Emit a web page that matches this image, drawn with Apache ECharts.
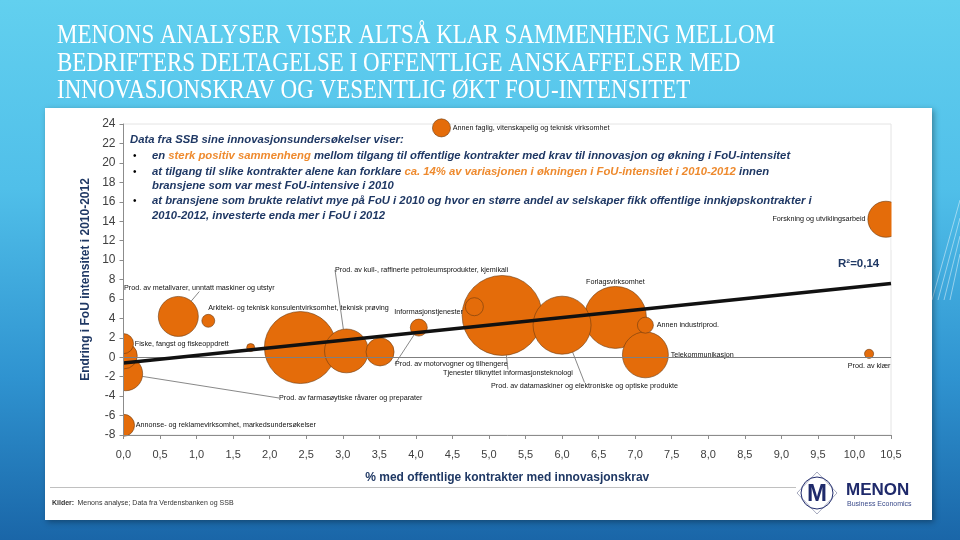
<!DOCTYPE html>
<html>
<head>
<meta charset="utf-8">
<script src="https://cdn.jsdelivr.net/npm/echarts@6/dist/echarts.min.js"></script>
<style>
  html, body { margin: 0; padding: 0; }
  #chart {
    width: 960px;
    height: 540px;
    background: linear-gradient(to bottom, #62d0ef 0%, #50bfe9 35%, #2f93d0 70%, #1a66a8 100%);
  }
</style>
</head>
<body>
<div id="chart"></div>
<script>
// bransjer (boblene)
const bransjer = [
  'Annen faglig, vitenskapelig og teknisk virksomhet',
  'Forskning og utviklingsarbeid',
  'Prod. av metallvarer, unntatt maskiner og utstyr',
  'Arkitekt- og teknisk konsulentvirksomhet, teknisk prøving',
  '',
  'Fiske, fangst og fiskeoppdrett',
  '',
  'Prod. av farmasøytiske råvarer og preparater',
  'Annonse- og reklamevirksomhet, markedsundersøkelser',
  '',
  'Prod. av kull-, raffinerte petroleumsprodukter, kjemikali',
  '',
  'Informasjonstjenester',
  'Prod. av motorvogner og tilhengere',
  'Tjenester tilknyttet informasjonsteknologi',
  'Prod. av datamaskiner og elektroniske og optiske produkte',
  'Forlagsvirksomhet',
  'Annen industriprod.',
  'Telekommunikasjon',
  'Prod. av klær'
]
// % med offentlige kontrakter med innovasjonskrav
const andelKontrakter = [4.35, 10.43, 0.75, 1.16, 1.74, 0.0, 0.01, 0.03, 0.0, 2.42,
  3.05, 3.51, 4.8, 4.04, 5.18, 6.0, 6.73, 7.14, 7.14, 10.2]
// endring i FoU-intensitet 2010-2012
const endringFoU = [23.6, 14.2, 4.2, 3.75, 1.0, 1.4, 0.15, -1.7, -7.0, 1.0,
  0.65, 0.55, 5.2, 3.05, 4.3, 3.3, 4.1, 3.3, 0.25, 0.35]
// boblestørrelse (relativ vekt)
const vekt = [5.1, 20.3, 25, 2.6, 1.0, 6.3, 10.6, 18, 7.6, 81,
  30, 12.3, 5.1, 4.5, 100, 52.6, 60, 4, 33, 1.3]

// trendlinje
const trendX = [0, 10.5]
const trendY = [-0.6, 7.6]

const navy = '#1f3864'
const oransje = '#e46c0a'
const tekstOransje = '#ee8a2e'

// plassering av etiketter
const etikettCfg = {
  'Annen faglig, vitenskapelig og teknisk virksomhet': { position: 'right', distance: 2 },
  'Forskning og utviklingsarbeid': { position: 'left', distance: 2 },
  'Arkitekt- og teknisk konsulentvirksomhet, teknisk prøving': { position: 'top', align: 'left', offset: [-2, 0], distance: 3 },
  'Fiske, fangst og fiskeoppdrett': { position: 'right', distance: 1 },
  'Annonse- og reklamevirksomhet, markedsundersøkelser': { position: 'right', distance: 1 },
  'Forlagsvirksomhet': { position: 'top', distance: 1 },
  'Annen industriprod.': { position: 'right', distance: 3 },
  'Telekommunikasjon': { position: 'right', distance: 2 },
  'Prod. av klær': { position: 'bottom', distance: 4 }
}
// etiketter med ledelinje (piksel-anker)
const ledelinjer = {
  'Prod. av metallvarer, unntatt maskiner og utstyr': [124, 288, 'left'],
  'Prod. av farmasøytiske råvarer og preparater': [279, 398, 'left'],
  'Prod. av kull-, raffinerte petroleumsprodukter, kjemikali': [335, 270, 'left'],
  'Informasjonstjenester': [463, 312, 'right'],
  'Prod. av motorvogner og tilhengere': [395, 364, 'left'],
  'Tjenester tilknyttet informasjonsteknologi': [443, 373, 'left'],
  'Prod. av datamaskiner og elektroniske og optiske produkte': [491, 386, 'left']
}

// bygg punktene, store bobler tegnes først
const punkter = bransjer.map((navn, i) => {
  const cfg = etikettCfg[navn]
  const led = ledelinjer[navn]
  return {
    name: navn,
    value: [andelKontrakter[i], endringFoU[i], vekt[i]],
    label: navn ? Object.assign({ show: true }, cfg || {}) : { show: false },
    labelLine: { show: !!led }
  }
}).sort((a, b) => b.value[2] - a.value[2])

// tittel
const tittel = [
  'MENONS ANALYSER VISER ALTSÅ KLAR SAMMENHENG MELLOM',
  'BEDRIFTERS DELTAGELSE I OFFENTLIGE ANSKAFFELSER MED',
  'INNOVASJONSKRAV OG VESENTLIG ØKT FOU-INTENSITET'
]
const ctx = document.createElement('canvas').getContext('2d')
ctx.font = '28px "Liberation Serif"'
const tittelSkala = 718 / ctx.measureText(tittel[0]).width

const rich = {
  n: { fontFamily: 'Liberation Sans', fontStyle: 'italic', fontWeight: 'bold', fontSize: 11.3, fill: navy },
  o: { fontFamily: 'Liberation Sans', fontStyle: 'italic', fontWeight: 'bold', fontSize: 11.3, fill: tekstOransje }
}
const boksLinjer = [
  [130, 140, '{n|Data fra SSB sine innovasjonsundersøkelser viser:}'],
  [152, 156, '{n|en }{o|sterk positiv sammenheng}{n| mellom tilgang til offentlige kontrakter med krav til innovasjon og økning i FoU-intensitet}'],
  [152, 172, '{n|at tilgang til slike kontrakter alene kan forklare }{o|ca. 14% av variasjonen i økningen i FoU-intensitet i 2010-2012}{n| innen}'],
  [152, 186, '{n|bransjene som var mest FoU-intensive i 2010}'],
  [152, 201, '{n|at bransjene som brukte relativt mye på FoU i 2010 og hvor en større andel av selskaper fikk offentlige innkjøpskontrakter i}'],
  [152, 216, '{n|2010-2012, investerte enda mer i FoU i 2012}']
]

const grafikk = [
  {
    type: 'rect', z: -10,
    shape: { x: 45, y: 108, width: 887, height: 412 },
    style: { fill: '#ffffff', shadowBlur: 6, shadowColor: 'rgba(0,0,0,0.35)', shadowOffsetX: 2, shadowOffsetY: 2 }
  },
  // boblene klippes mot venstre akse og høyre kant av plottet
  { type: 'rect', z: 6, shape: { x: 46, y: 290, width: 77, height: 150 }, style: { fill: '#ffffff' } },
  { type: 'rect', z: 6, shape: { x: 891.5, y: 190, width: 40, height: 60 }, style: { fill: '#ffffff' } },
  { type: 'line', z: 50, shape: { x1: 50, y1: 487.5, x2: 796, y2: 487.5 }, style: { stroke: '#c0c0c0', lineWidth: 1 } },
  {
    type: 'text', z: 50, x: 52, y: 503,
    style: {
      text: '{k|Kilder:} {t|Menons analyse; Data fra Verdensbanken og SSB}',
      verticalAlign: 'middle',
      rich: {
        k: { fontFamily: 'Liberation Sans', fontWeight: 'bold', fontSize: 7, fill: '#333' },
        t: { fontFamily: 'Liberation Sans', fontSize: 7, fill: '#333' }
      }
    }
  },
  {
    type: 'text', z: 50, x: 838, y: 264,
    style: { text: 'R²=0,14', font: 'bold 11.5px "Liberation Sans"', fill: navy, verticalAlign: 'middle' }
  },
  // logo
  { type: 'polygon', z: 50, shape: { points: [[797, 493], [817, 472], [837, 493], [817, 514]] }, style: { fill: 'none', stroke: '#6b7294', lineWidth: 0.6 } },
  { type: 'circle', z: 50, shape: { cx: 817, cy: 493, r: 16 }, style: { fill: 'none', stroke: '#1f2a6b', lineWidth: 1 } },
  { type: 'text', z: 51, x: 817, y: 494, style: { text: 'M', font: 'bold 24px "Liberation Sans"', fill: '#1f2a6b', align: 'center', verticalAlign: 'middle' } },
  { type: 'text', z: 50, x: 846, y: 490, style: { text: 'MENON', font: 'bold 17px "Liberation Sans"', fill: '#1f2a6b', verticalAlign: 'middle' } },
  { type: 'text', z: 50, x: 847, y: 504, style: { text: 'Business Economics', font: '7px "Liberation Sans"', fill: '#3a4a8a', verticalAlign: 'middle' } }
]
// dekorstriper til høyre
;[0, 6, 12, 18].forEach(d => {
  grafikk.push({ type: 'line', z: -20, shape: { x1: 932 + d, y1: 300, x2: 960, y2: 200 + d * 3 }, style: { stroke: 'rgba(255,255,255,0.45)', lineWidth: 1 } })
})
tittel.forEach((linje, i) => {
  grafikk.push({
    type: 'text', z: 50, x: 57, y: 36 + i * 27.5, scaleX: tittelSkala,
    style: { text: linje, font: '28px "Liberation Serif"', fill: '#ffffff', verticalAlign: 'middle' }
  })
})
boksLinjer.forEach(([x, y, tekst]) => {
  grafikk.push({ type: 'text', z: 50, x: x, y: y, style: { text: tekst, rich: rich, verticalAlign: 'middle' } })
})
;[156, 172, 201].forEach(y => {
  grafikk.push({ type: 'text', z: 50, x: 133, y: y, style: { text: '•', font: '10px "Liberation Sans"', fill: '#000', verticalAlign: 'middle' } })
})

const chart = echarts.init(document.getElementById('chart'), null, { renderer: 'canvas' })

const komma = v => v.toFixed(1).replace('.', ',')

chart.setOption({
  backgroundColor: 'transparent',
  animation: false,
  grid: { left: 123.5, right: 69, top: 124, bottom: 105, show: true, borderColor: '#e4e4e4', borderWidth: 1 },
  xAxis: {
    type: 'value', min: 0, max: 10.5, interval: 0.5, z: 10,
    name: '% med offentlige kontrakter med innovasjonskrav',
    nameLocation: 'middle', nameGap: 37,
    nameTextStyle: { fontFamily: 'Liberation Sans', fontWeight: 'bold', fontSize: 12, color: navy },
    axisLine: { show: true, onZero: false, lineStyle: { color: '#8c8c8c' } },
    axisTick: { show: true, length: 4, lineStyle: { color: '#8c8c8c' } },
    axisLabel: { formatter: komma, fontFamily: 'Liberation Sans', fontSize: 11, color: '#404040', margin: 14 },
    splitLine: { show: false }
  },
  yAxis: {
    type: 'value', min: -8, max: 24, interval: 2, z: 10,
    name: 'Endring i FoU intensitet i 2010-2012',
    nameLocation: 'middle', nameGap: 30, nameRotate: 90,
    nameTextStyle: { fontFamily: 'Liberation Sans', fontWeight: 'bold', fontSize: 12, color: navy },
    axisLine: { show: true, onZero: false, lineStyle: { color: '#8c8c8c' } },
    axisTick: { show: true, length: 4, lineStyle: { color: '#8c8c8c' } },
    axisLabel: { fontFamily: 'Liberation Sans', fontSize: 12, color: '#404040', margin: 8 },
    splitLine: { show: false }
  },
  series: [
    {
      type: 'scatter',
      clip: false,
      z: 2,
      data: punkter,
      symbolSize: v => 8 * Math.sqrt(v[2]),
      itemStyle: { color: oransje, borderColor: '#6b3a10', borderWidth: 0.6, opacity: 1 },
      label: { show: true, formatter: '{b}', fontFamily: 'Liberation Sans', fontSize: 7.2, color: '#111' },
      labelLine: { show: false, lineStyle: { color: '#555', width: 0.7 } },
      labelLayout: p => {
        const led = ledelinjer[punkter[p.dataIndex].name]
        if (!led) return {}
        return { x: led[0], y: led[1], align: led[2], verticalAlign: 'middle' }
      },
      emphasis: { disabled: true }
    },
    {
      type: 'line',
      z: 5,
      data: trendX.map((x, i) => [x, trendY[i]]),
      symbol: 'none',
      lineStyle: { color: '#111', width: 3.5 },
      markLine: {
        silent: true, symbol: 'none', label: { show: false },
        lineStyle: { color: '#7f7f7f', width: 1, type: 'solid' },
        data: [{ yAxis: 0 }]
      }
    }
  ],
  graphic: grafikk
})
</script>
</body>
</html>
